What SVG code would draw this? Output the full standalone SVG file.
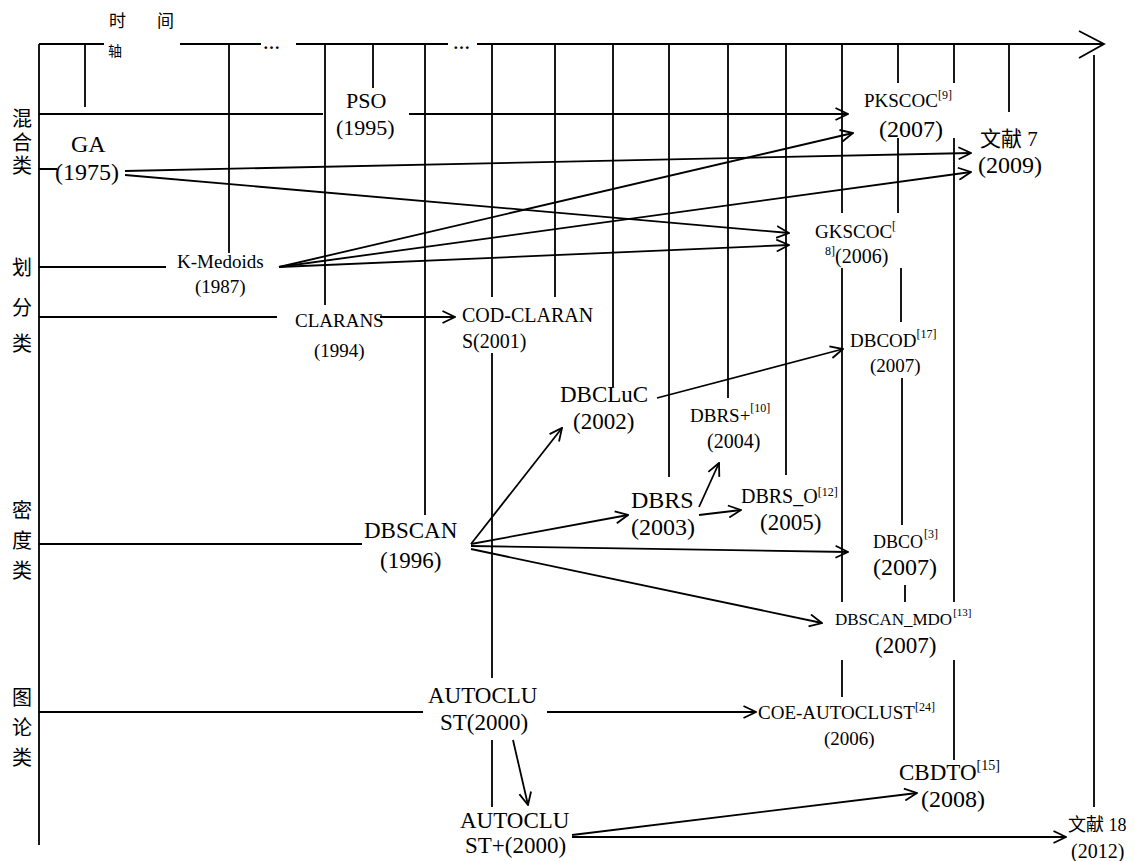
<svg xmlns="http://www.w3.org/2000/svg" width="1135" height="861" viewBox="0 0 1135 861">
<style>
.ln{fill:none;stroke:#000;stroke-width:1.8}
.ar{fill:none;stroke:#000;stroke-width:1.8;marker-end:url(#arr)}
text{font-family:"Liberation Serif","Noto Sans CJK SC",serif;fill:#000}
.cat{font-size:20px}
.sup{font-size:12px}
</style>
<defs>
<marker id="arr" viewBox="0 0 14 14" refX="13" refY="7" markerWidth="14" markerHeight="14" markerUnits="userSpaceOnUse" orient="auto">
<path d="M0.5,1 L13,7 L0.5,13" fill="none" stroke="#000" stroke-width="1.8"/>
</marker>
</defs>
<rect width="1135" height="861" fill="#fff"/>

<g id="axis">
<path class="ln" d="M39,44 H104 M180,44 H261 M296,44 H448 M477,44 H1103 M1079,31 L1104,44 L1079,58 M39,44 V845"/>
<text x="109" y="27" style="font-size:17px">时<tspan x="157">间</tspan></text>
<text x="108" y="56" style="font-size:14px">轴</text>
<text x="263" y="49" style="font-size:17px;font-weight:bold">…</text>
<text x="453" y="49" style="font-size:17px;font-weight:bold">…</text>
</g>

<g id="categories">
<text class="cat" x="12" y="126">混</text>
<text class="cat" x="12" y="150">合</text>
<text class="cat" x="12" y="173">类</text>
<text class="cat" x="12" y="275">划</text>
<text class="cat" x="12" y="315">分</text>
<text class="cat" x="12" y="351">类</text>
<text class="cat" x="12" y="518">密</text>
<text class="cat" x="12" y="548">度</text>
<text class="cat" x="12" y="578">类</text>
<text class="cat" x="12" y="705">图</text>
<text class="cat" x="12" y="735">论</text>
<text class="cat" x="12" y="765">类</text>
</g>

<g id="connectors">
<path class="ln" d="M85,44 V107 M229,44 V253 M325,44 V305 M373,44 V88 M425,44 V515 M492,44 V297 M492,353 V678 M492,740 V807 M555,44 V297 M613,44 V387 M669,44 V477 M728,44 V398 M786,44 V475 M842,44 V213 M842,268 V602 M842,660 V697 M898,44 V83 M898,138 V213 M901,268 V322 M902,378 V525 M905,585 V602 M954,44 V83 M954,138 V602 M954,660 V760 M1009,44 V112 M1094,55 V807"/>
<path class="ln" d="M39,114 H323 M39,169 H57 M39,267 H166 M39,317 H277 M39,544 H362 M39,712 H423"/>
<path class="ar" d="M409,114 L848,114"/>
<path class="ar" d="M125,171 L971,153"/>
<path class="ar" d="M125,175 L789,233"/>
<path class="ar" d="M279,267 L853,133"/>
<path class="ar" d="M279,267 L971,172"/>
<path class="ar" d="M279,267 L789,245"/>
<path class="ar" d="M380,317 L455,317"/>
<path class="ar" d="M471,544 L562,428"/>
<path class="ar" d="M471,544 L628,515"/>
<path class="ar" d="M471,546 L848,552"/>
<path class="ar" d="M471,549 L822,623"/>
<path class="ar" d="M657,398 L843,349"/>
<path class="ar" d="M699,507 L719,463"/>
<path class="ar" d="M699,515 L741,510"/>
<path class="ar" d="M547,712 L756,712"/>
<path class="ar" d="M513,740 L528,805"/>
<path class="ar" d="M572,835 L917,793"/>
<path class="ar" d="M572,837 L1066,837"/>
</g>

<g id="n-pso"><text x="346" y="108" style="font-size:22px">PSO</text><text x="336" y="135" style="font-size:22px">(1995)</text></g>
<g id="n-ga"><text x="71" y="152" style="font-size:24px">GA</text><text x="55" y="180" style="font-size:24px">(1975)</text></g>
<g id="n-kmedoids"><text x="177" y="268" style="font-size:19px">K-Medoids</text><text x="195" y="293" style="font-size:19px">(1987)</text></g>
<g id="n-clarans"><text x="295" y="327" style="font-size:19px">CLARANS</text><text x="314" y="357" style="font-size:19px">(1994)</text></g>
<g id="n-codclarans"><text x="462" y="322" style="font-size:20px">COD-CLARAN</text><text x="462" y="348" style="font-size:20px">S(2001)</text></g>
<g id="n-dbcluc"><text x="560" y="402" style="font-size:23px">DBCLuC</text><text x="573" y="429" style="font-size:23px">(2002)</text></g>
<g id="n-dbrsplus"><text x="690" y="422" style="font-size:19px">DBRS+<tspan class="sup" dy="-10">[10]</tspan></text><text x="707" y="448" style="font-size:20px">(2004)</text></g>
<g id="n-dbrs"><text x="631" y="508" style="font-size:24px">DBRS</text><text x="631" y="535" style="font-size:24px">(2003)</text></g>
<g id="n-dbrso"><text x="741" y="503" style="font-size:20px">DBRS_O<tspan class="sup" dy="-7">[12]</tspan></text><text x="760" y="530" style="font-size:23px">(2005)</text></g>
<g id="n-dbscan"><text x="364" y="538" style="font-size:23px">DBSCAN</text><text x="380" y="568" style="font-size:23px">(1996)</text></g>
<g id="n-dbco"><text x="873" y="548" style="font-size:18px">DBCO<tspan class="sup" dx="1" dy="-10">[3]</tspan></text><text x="873" y="575" style="font-size:24px">(2007)</text></g>
<g id="n-dbscanmdo"><text x="835" y="625" style="font-size:17px">DBSCAN_MDO<tspan style="font-size:11px" dx="1" dy="-9">[13]</tspan></text><text x="875" y="653" style="font-size:23px">(2007)</text></g>
<g id="n-pkscoc"><text x="864" y="107" style="font-size:19px">PKSCOC<tspan class="sup" dy="-8">[9]</tspan></text><text x="879" y="137" style="font-size:24px">(2007)</text></g>
<g id="n-wx7"><text x="980" y="146" style="font-size:21px">文献 7</text><text x="978" y="173" style="font-size:24px">(2009)</text></g>
<g id="n-gkscoc"><text x="815" y="238" style="font-size:19px">GKSCOC<tspan class="sup" dy="-8">[</tspan></text><text x="825" y="263"><tspan class="sup" dy="-8">8]</tspan><tspan style="font-size:20px" dy="8">(2006)</tspan></text></g>
<g id="n-dbcod"><text x="850" y="347" style="font-size:19px">DBCOD<tspan class="sup" dy="-9">[17]</tspan></text><text x="870" y="372" style="font-size:19px">(2007)</text></g>
<g id="n-coeautoclust"><text x="758" y="719" style="font-size:19px">COE-AUTOCLUST<tspan class="sup" dy="-8">[24]</tspan></text><text x="824" y="745" style="font-size:19px">(2006)</text></g>
<g id="n-cbdto"><text x="899" y="780" style="font-size:23px">CBDTO<tspan style="font-size:14px" dy="-10">[15]</tspan></text><text x="921" y="807" style="font-size:24px">(2008)</text></g>
<g id="n-autoclust"><text x="428" y="703" style="font-size:23px">AUTOCLU</text><text x="440" y="730" style="font-size:23px">ST(2000)</text></g>
<g id="n-autoclustplus"><text x="460" y="828" style="font-size:23px">AUTOCLU</text><text x="465" y="853" style="font-size:23px">ST+(2000)</text></g>
<g id="n-wx18"><text x="1068" y="831" style="font-size:18px">文献 18</text><text x="1071" y="858" style="font-size:20px">(2012)</text></g>
</svg>
